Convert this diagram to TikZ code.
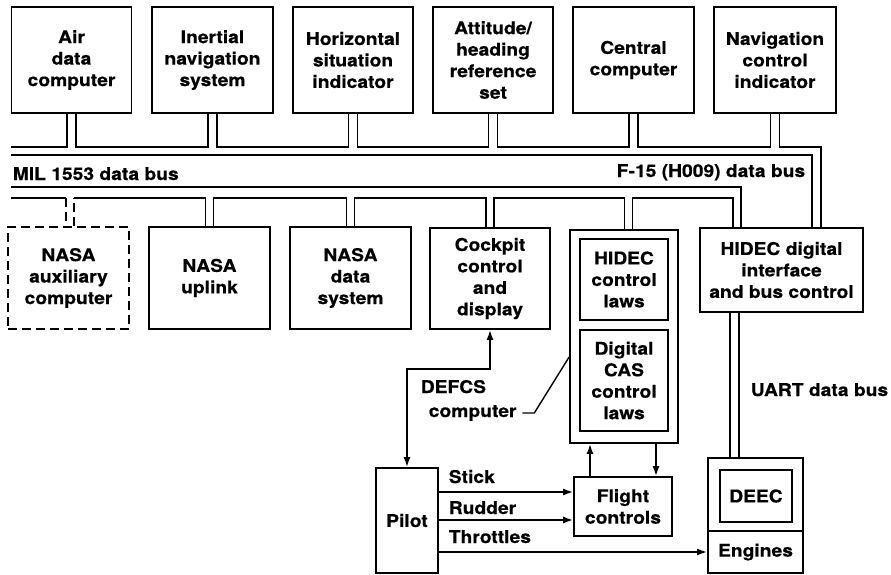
\documentclass[tikz,border=0pt]{standalone}
\usepackage{fontspec}
\setmainfont{TeX Gyre Heros}[FakeStretch=1.1, BoldFeatures={FakeBold=0.5}]
\usetikzlibrary{calc,arrows.meta}

\begin{document}
\begin{tikzpicture}[x=1pt,y=-1pt,
  line width=1.6pt,
  every node/.style={font=\fontsize{17.5}{21.5}\selectfont\bfseries, align=center, inner sep=0pt},
  blk/.style={draw, line width=1.8pt},
  sz/.style 2 args={minimum width=#1pt, minimum height=#2pt},
  dash box/.style={dash pattern=on 9pt off 5pt},
  tip/.tip={Latex[length=10pt,width=7pt]},
  arr/.style={-tip},
  lbl/.style={anchor=base west}]

\useasboundingbox (0,0) rectangle (891,575);

% ---- avionics on the F-15 (H009) bus ----
\node[blk,sz={120}{106}] (adc)  at (71.5,60)  {Air\\data\\computer};
\node[blk,sz={121}{106}] (ins)  at (212.5,60) {Inertial\\navigation\\system};
\node[blk,sz={120}{106}] (hsi)  at (353,60)   {Horizontal\\situation\\indicator};
\node[blk,sz={120}{106}] (ahrs) at (493,60)   {Attitude/\\heading\\reference\\set};
\node[blk,sz={121}{106}] (cc)   at (633.5,60) {Central\\computer};
\node[blk,sz={122}{106}] (nci)  at (775,60)   {Navigation\\control\\indicator};

% ---- units on the MIL 1553 bus ----
\node[blk,dash box,sz={121}{102}] (aux) at (68.5,278) {NASA\\auxiliary\\computer};
\node[blk,sz={121}{102}] (upl) at (209.5,278) {NASA\\uplink};
\node[blk,sz={121}{102}] (nds) at (350.5,278) {NASA\\data\\system};
\node[blk,sz={120}{101}] (ccd) at (490,278.5) {Cockpit\\control\\and\\display};

% DEFCS computer with its two control-law blocks
\node[blk,sz={108}{213}] (defcs) at (624,336.5) {};
\node[blk,sz={88}{81}]   (hcl)   at (624,279.5) {HIDEC\\control\\laws};
\node[blk,sz={88}{101}]  (cas)   at (624,380.5) {Digital\\CAS\\control\\laws};

\node[blk,sz={163}{84}] (hdi) at (781.5,270) {HIDEC digital\\interface\\and bus control};

% ---- pilot, controls, engines ----
\node[blk,sz={62}{105}] (pilot) at (407,520.5) {Pilot};
\node[blk,sz={98}{59}]  (fc)    at (623,506.5) {Flight\\controls};
\node[blk,sz={95}{115}] (eng)   at (755.5,515.5) {};
\node[blk,sz={72}{52}]  (deec)  at (756,496) {DEEC};
\node (engtxt) at (755.5,552) {Engines};
\coordinate (ydiv) at (0,531);
\draw[line width=1.8pt] (eng.west |- ydiv) -- (eng.east |- ydiv);

% ---- bus levels ----
\coordinate (ua) at (0,147);
\coordinate (ub) at (0,155);
\coordinate (lc) at (0,187);
\coordinate (ld) at (0,198);

\foreach \n in {adc,ins,hsi,ahrs,cc,nci}{
  \coordinate (\n-l) at ($(\n.south)+(-4.5,0)$);
  \coordinate (\n-r) at ($(\n.south)+(4.5,0)$);
}
\foreach \n/\s in {aux/1.5,upl/0,nds/0,ccd/0,defcs/4.5}{
  \coordinate (\n-l) at ($(\n.north)+(\s-4,0)$);
  \coordinate (\n-r) at ($(\n.north)+(\s+4,0)$);
}
% drops into the HIDEC interface
\coordinate (m1) at ($(hdi.north west)+(34,0)$);
\coordinate (m2) at ($(hdi.north west)+(42,0)$);
\coordinate (f1) at ($(hdi.north west)+(113,0)$);
\coordinate (f2) at ($(hdi.north west)+(122,0)$);

% F-15 (H009) data bus
\draw (11,147) -- (adc-l |- ua) -- (adc-l);
\draw (adc-r) -- (adc-r |- ua) -- (ins-l |- ua) -- (ins-l);
\draw (ins-r) -- (ins-r |- ua) -- (hsi-l |- ua) -- (hsi-l);
\draw (hsi-r) -- (hsi-r |- ua) -- (ahrs-l |- ua) -- (ahrs-l);
\draw (ahrs-r) -- (ahrs-r |- ua) -- (cc-l |- ua) -- (cc-l);
\draw (cc-r) -- (cc-r |- ua) -- (nci-l |- ua) -- (nci-l);
\draw (nci-r) -- (nci-r |- ua) -- (f2 |- ua) -- (f2);
\draw (11,155) -- (f1 |- ub) -- (f1);

% MIL 1553 data bus
\draw (11,187) -- (m2 |- lc) -- (m2);
\draw (11,198) -- (aux-l |- ld);
\draw[dash box] (aux-l |- ld) -- (aux-l);
\draw[dash box] (aux-r) -- (aux-r |- ld);
\draw (aux-r |- ld) -- (upl-l |- ld) -- (upl-l);
\draw (upl-r) -- (upl-r |- ld) -- (nds-l |- ld) -- (nds-l);
\draw (nds-r) -- (nds-r |- ld) -- (ccd-l |- ld) -- (ccd-l);
\draw (ccd-r) -- (ccd-r |- ld) -- (defcs-l |- ld) -- (defcs-l);
\draw (defcs-r) -- (defcs-r |- ld) -- (m1 |- ld) -- (m1);

\node[lbl] (milbl) at (12,180) {MIL 1553 data bus};
\node[anchor=base east] (f15lbl) at (806,177) {F-15 (H009) data bus};

% UART data bus
\coordinate (u1) at ($(hdi.south west)+(31,0)$);
\coordinate (u2) at ($(hdi.south west)+(40,0)$);
\draw (u1) -- (u1 |- eng.north);
\draw (u2) -- (u2 |- eng.north);
\node[lbl] (uartlbl) at (750,396) {UART data bus};

% pilot <-> cockpit display
\coordinate (bend) at ($(ccd.south)+(0,39)$);
\draw[tip-tip] (pilot.north) |- (bend) -- (ccd.south);

% DEFCS computer call-out
\node[lbl] (defcslbl) at (420,393) {DEFCS};
\node[lbl] (complbl) at (428,417) {computer};
\coordinate (co) at ($(defcs.west)+(0,20.5)$);
\coordinate (cs) at ($(complbl.east)+(5,0)$);
\draw[line width=1.4pt] (cs) -- ++(12,0) -- (co);

% control paths
\coordinate (ys) at (0,492);
\coordinate (yr) at (0,520);
\coordinate (yt) at (0,552);
\draw[arr] (pilot.east |- ys) -- (fc.west |- ys);
\draw[arr] (pilot.east |- yr) -- (fc.west |- yr);
\draw[arr] (pilot.east |- yt) -- (eng.west |- yt);
\node[lbl] (sticklbl) at (448,483) {Stick};
\node[lbl] (rudlbl) at (448,514) {Rudder};
\node[lbl] (thrlbl) at (448,543) {Throttles};

% flight controls <-> DEFCS computer
\coordinate (fcu) at ($(fc.north)+(-33,0)$);
\coordinate (fcd) at ($(fc.north)+(33,0)$);
\draw[arr] (fcu) -- (fcu |- defcs.south);
\draw[arr] (fcd |- defcs.south) -- (fcd);
\end{tikzpicture}
\end{document}
